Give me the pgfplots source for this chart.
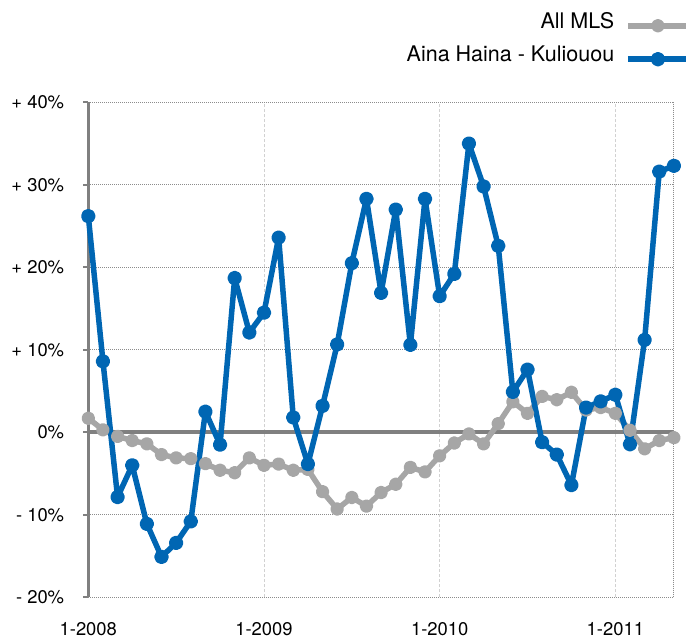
\documentclass[border=0pt]{standalone}
\usepackage{pgfplots}
\pgfplotsset{compat=1.18}
\usepackage{fontspec}
\setmainfont{TeX Gyre Heros}
\definecolor{mlsgray}{HTML}{A6A6A6}
\definecolor{ahblue}{HTML}{0066B3}
\definecolor{axgray}{HTML}{808080}
\begin{document}
\begin{tikzpicture}
\useasboundingbox (0,0) rectangle (686bp,639bp);
\begin{axis}[
  at={(88.3bp,41.7bp)}, anchor=south west,
  scale only axis, width=585.6bp, height=495bp,
  xmin=0, xmax=40, ymin=-20, ymax=40,
  clip=false,
  axis x line*=bottom, axis y line*=left,
  x axis line style={draw=none},
  y axis line style={draw=axgray, line width=2.7bp, -},
  xtick={0,12,24,36}, xticklabels={1-2008,1-2009,1-2010,1-2011},
  ytick={-20,-10,0,10,20,30,40},
  yticklabels={- 20\%,- 10\%,0\%,+ 10\%,+ 20\%,+ 30\%,+ 40\%},
  tick align=outside,
  major tick length=5bp,
  x tick style={draw=none},
  y tick style={draw=axgray, line width=2bp},
  xmajorgrids, ymajorgrids,
  x grid style={draw=black!18, line width=0.8bp, dash pattern=on 3bp off 2bp},
  y grid style={draw=black!45, line width=1bp, dash pattern=on 1bp off 1bp},
  ticklabel style={font=\fontsize{18.4bp}{22bp}\selectfont},
  yticklabel style={anchor=east, inner sep=0pt, xshift=-19bp},
  xticklabel style={anchor=base, inner sep=0pt, yshift=-33bp},
  legend style={draw=none, fill=none, inner sep=0pt,
    at={(1.0290,1.1651)}, anchor=north east,
    font=\fontsize{21.5bp}{25bp}\selectfont,
    row sep=23.5bp, column sep=11bp,
    nodes={inner sep=0pt, text height=0.75em, text depth=0.25em}},
  legend cell align=right,
  legend plot pos=right,
  legend image code/.code={\draw[mark repeat=2, mark phase=2, #1] plot coordinates {(0bp,0bp)(30bp,0bp)(60bp,0bp)};},
]
\draw[draw=axgray, line width=4bp] (axis cs:0,0) -- (axis cs:40,0);
\draw[draw=black!45, line width=1bp, dash pattern=on 1bp off 1bp] (axis cs:40,-20) -- (axis cs:40,40);
\addplot[mlsgray, line width=5.5bp, line join=round, mark=*, mark size=4bp, mark options={solid}] coordinates {
(0,1.7) (1,0.3) (2,-0.5) (3,-1.0) (4,-1.4) (5,-2.7) (6,-3.1) (7,-3.2) (8,-3.8) (9,-4.6)
(10,-4.9) (11,-3.1) (12,-4.0) (13,-3.85) (14,-4.6) (15,-4.5) (16,-7.2) (17,-9.3) (18,-7.9) (19,-8.95)
(20,-7.3) (21,-6.3) (22,-4.25) (23,-4.8) (24,-2.85) (25,-1.3) (26,-0.2) (27,-1.4) (28,1.05) (29,3.7)
(30,2.3) (31,4.35) (32,3.95) (33,4.85) (34,2.7) (35,3.0) (36,2.3) (37,0.25) (38,-2.0) (39,-1.0)
(40,-0.65)
};
\addlegendentry{All MLS}
\addplot[ahblue, line width=5.5bp, line join=round, mark=*, mark size=4.5bp, mark options={solid}] coordinates {
(0,26.2) (1,8.6) (2,-7.85) (3,-4.0) (4,-11.1) (5,-15.1) (6,-13.4) (7,-10.8) (8,2.5) (9,-1.5)
(10,18.7) (11,12.1) (12,14.5) (13,23.6) (14,1.8) (15,-3.85) (16,3.2) (17,10.65) (18,20.5) (19,28.3)
(20,16.9) (21,27.0) (22,10.6) (23,28.3) (24,16.5) (25,19.2) (26,35.0) (27,29.8) (28,22.6) (29,4.9)
(30,7.6) (31,-1.2) (32,-2.7) (33,-6.4) (34,3.0) (35,3.75) (36,4.55) (37,-1.45) (38,11.2) (39,31.6)
(40,32.3)
};
\addlegendentry{Aina Haina - Kuliouou}
\end{axis}
\end{tikzpicture}
\end{document}
